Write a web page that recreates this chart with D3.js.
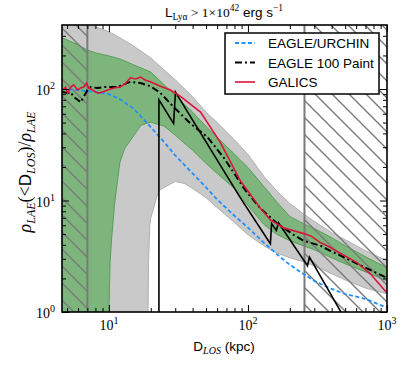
<!DOCTYPE html>
<html>
<head>
<meta charset="utf-8">
<script src="https://cdn.jsdelivr.net/npm/d3@7"></script>
<style>
body{margin:0;background:#fff}
text{fill:#000}
</style>
</head>
<body>
<div id="container"></div>
<script>
// --- data (D in kpc, ratio) ---
var bandD = [4.6,5,6,7,8,10,12,15,20,25,30,40,50,60,80,100,130,160,200,250,300,400,500,700,1000]
var grayUp = [450,440,410,385,362,326,288,244,190,148,121,85,62,50,35,25.9,16.5,12.3,9.4,7.6,6.5,5.15,4.45,3.55,2.88]
var greenUp = [288,276,249,224,211,198,186,165,142,109,88,62,46,37,26,19.8,13.4,9.8,7.2,6.2,5.6,4.64,3.93,3.13,2.49]

var greenLoD = [4.6,9.8,10,10.2,10.5,11,12,13,15,17,20,25,30,40,50,60,80,100,130,160,200,250,300,400,500,700,1000]
var greenLo = [0.5,0.5,1.0,2.8,4.8,9.5,22,29.4,37.7,47.4,50.4,46.4,38.5,28.2,21.5,17.5,12.8,9.0,6.1,5.0,4.36,3.93,3.62,3.06,2.71,2.29,1.9]

var grayLoD = [4.6,19,19.3,19.7,20,21,22,23,25,30,35,40,50,60,80,100,130,160,200,250,300,400,500,700,1000]
var grayLo = [0.5,0.5,2.9,6.0,7.0,8.5,10.6,12.3,13.1,14.8,14.2,12.8,10.6,8.65,6.34,4.94,3.93,3.4,3.07,2.82,2.6,2.2,1.94,1.64,1.45]

var urchinD = [4.6,6,8,10,12,15,20,25,30,40,50,60,80,100,130,160,200,250,300,400,500,700,1000]
var urchin = [100,98,94,90,81,67,45.5,33.3,25.4,17.5,13.1,10.2,7.3,5.71,4.19,3.33,2.65,2.2,1.9,1.61,1.45,1.31,1.09]

var paintD = [4.65,5.05,5.31,5.58,5.96,6.26,6.58,7.03,7.39,8.29,9.16,10.3,11.55,12.5,14.3,16.9,19.9,23.5,29.2,38.6,51.2,66.7,78.7,95.9,123,163,212,251,332,391,612,1000]
var paint = [94,92,94,85,80,76,85,98,104,102,104,104,104,109,116,113,106,92,69,49,37,24.4,17.9,12.3,8.5,6.2,4.94,4.36,3.93,3.54,2.71,2.02]

var galicsD = [4.65,4.88,5.05,5.31,5.58,5.96,6.26,6.58,6.92,7.15,7.64,8.02,8.43,9.01,9.79,10.8,12.1,13.2,14.3,15.6,16.9,18.4,19.9,23.5,27.7,32.7,45.6,63.4,88,123,145,180,238,281,332,372,612,759,1000]
var galics = [98,104,92,104,109,98,102,104,113,102,98,94,92,94,98,102,104,113,126,123,128,120,116,106,98,86,62,33,15.1,8.5,6.7,5.7,5.15,4.84,4.19,3.93,2.76,2.2,1.48]

var paintSolidD = [22.9,22.9,29.2,30.1,88,145,148,160,166,268,277,500]
var paintSolid = [0.1,80,49,94,10.6,4.1,6.2,5.4,6.3,2.6,3.1,0.86]

var hatchLeft = [4.6,7]
var hatchRight = [255,1000]

var xMajor = [10,100,1000]
var xMinor = [5,6,7,8,9,20,30,40,50,60,70,80,90,200,300,400,500,600,700,800,900]
var yMajor = [1,10,100]
var yMinor = [2,3,4,5,6,7,8,9,20,30,40,50,60,70,80,90,200,300]

var legendNames = ["EAGLE/URCHIN","EAGLE 100 Paint","GALICS"]

var svg = d3.select("#container").append("svg").attr("width",415).attr("height",368)

var xScale = d3.scaleLog().domain([4.6,1000]).range([62,387])
var yScale = d3.scaleLog().domain([1,375]).range([312,25])

var defs = svg.append("defs")
defs.append("clipPath").attr("id","clip").append("rect")
    .attr("x",62).attr("y",25).attr("width",325).attr("height",287)
var pat = defs.append("pattern").attr("id","hatch")
    .attr("patternUnits","userSpaceOnUse").attr("width",17).attr("height",17)
pat.append("path").attr("d","M-2,-2L19,19M-2,15L2,19M15,-2L19,2")
    .attr("stroke","#7a7a7a").attr("stroke-width",1.4).attr("fill","none")

var plot = svg.append("g").attr("clip-path","url(#clip)")

function band(upD,up,loD,lo){
    var pts = upD.map(function(d,i){return [xScale(d),yScale(up[i])]})
    var low = loD.map(function(d,i){return [xScale(d),yScale(lo[i])]}).reverse()
    return d3.line()(pts.concat(low))+"Z"
}

plot.append("path").attr("d",band(bandD,grayUp,grayLoD,grayLo))
    .attr("fill","#c9c9c9").attr("stroke","#b0b0b0").attr("stroke-width",1)
plot.append("path").attr("d",band(bandD,greenUp,greenLoD,greenLo))
    .attr("fill","#7db57d").attr("stroke","#56a056").attr("stroke-width",1)

// hatched regions
;[hatchLeft,hatchRight].forEach(function(r){
    plot.append("rect").attr("x",xScale(r[0])).attr("y",yScale(375))
        .attr("width",xScale(r[1])-xScale(r[0])).attr("height",yScale(1)-yScale(375))
        .attr("fill","url(#hatch)")
})
plot.append("line").attr("x1",xScale(hatchLeft[1])).attr("x2",xScale(hatchLeft[1]))
    .attr("y1",25).attr("y2",312).attr("stroke","#7a7a7a").attr("stroke-width",2)
plot.append("line").attr("x1",xScale(hatchRight[0])).attr("x2",xScale(hatchRight[0]))
    .attr("y1",25).attr("y2",312).attr("stroke","#7a7a7a").attr("stroke-width",2)

function lineOf(xs,ys){
    return d3.line().x(function(d){return xScale(d)}).y(function(d,i){return yScale(ys[i])})(xs)
}

plot.append("path").attr("d",lineOf(urchinD,urchin)).attr("fill","none")
    .attr("stroke","#1e90ff").attr("stroke-width",1.8).attr("stroke-dasharray","4,2.5")
plot.append("path").attr("d",lineOf(paintSolidD,paintSolid)).attr("fill","none")
    .attr("stroke","#000").attr("stroke-width",1.6)
plot.append("path").attr("d",lineOf(paintD,paint)).attr("fill","none")
    .attr("stroke","#000").attr("stroke-width",2).attr("stroke-dasharray","7,3,2,3")
plot.append("path").attr("d",lineOf(galicsD,galics)).attr("fill","none")
    .attr("stroke","#dc143c").attr("stroke-width",1.6)

// axes, ticks pointing inward
function ticks(axis,vals,size,tr){
    var g = svg.append("g").attr("transform",tr)
        .call(axis.tickValues(vals).tickSize(size).tickFormat(""))
    g.select(".domain").remove()
    g.selectAll("line").attr("stroke","#000").attr("stroke-width",1)
}
ticks(d3.axisBottom(xScale),xMajor,-7,"translate(0,312)")
ticks(d3.axisBottom(xScale),xMinor,-4,"translate(0,312)")
ticks(d3.axisTop(xScale),xMajor,-7,"translate(0,25)")
ticks(d3.axisTop(xScale),xMinor,-4,"translate(0,25)")
ticks(d3.axisLeft(yScale),yMajor,-7,"translate(62,0)")
ticks(d3.axisLeft(yScale),yMinor,-4,"translate(62,0)")
ticks(d3.axisRight(yScale),yMajor,-7,"translate(387,0)")
ticks(d3.axisRight(yScale),yMinor,-4,"translate(387,0)")

svg.append("rect").attr("x",62).attr("y",25).attr("width",325).attr("height",287)
    .attr("fill","none").attr("stroke","#000").attr("stroke-width",1.6)

var serif = "'Liberation Serif','DejaVu Serif',serif"
var sans = "'Liberation Sans',Arial,sans-serif"

xMajor.forEach(function(v){
    var t = svg.append("text").attr("x",xScale(v)).attr("y",330)
        .attr("text-anchor","middle").attr("font-family",serif).attr("font-size",14)
    t.append("tspan").text("10")
    t.append("tspan").attr("dy",-6).attr("font-size",10).text(Math.round(Math.log10(v)))
})
yMajor.forEach(function(v){
    var t = svg.append("text").attr("x",55).attr("y",yScale(v)+6)
        .attr("text-anchor","end").attr("font-family",serif).attr("font-size",14)
    t.append("tspan").text("10")
    t.append("tspan").attr("dy",-6).attr("font-size",10).text(Math.round(Math.log10(v)))
})

// title
var title = svg.append("text").attr("x",224).attr("y",17).attr("text-anchor","middle")
    .attr("font-size",13.5).attr("font-family",sans)
title.append("tspan").text("L")
title.append("tspan").attr("font-family",serif).attr("font-size",9.5).attr("dy",3).text("Lyα")
title.append("tspan").attr("font-family",serif).attr("dy",-3).text(" > 1×10")
title.append("tspan").attr("font-family",serif).attr("font-size",9.5).attr("dy",-6).text("42")
title.append("tspan").attr("dy",6).text(" erg s")
title.append("tspan").attr("font-family",serif).attr("font-size",9.5).attr("dy",-6).text("−1")

// x label
var xl = svg.append("text").attr("x",224).attr("y",351).attr("text-anchor","middle")
    .attr("font-size",13.5).attr("font-family",sans)
xl.append("tspan").text("D")
xl.append("tspan").attr("font-family",serif).attr("font-style","italic").attr("font-size",10).attr("dy",3).text("LOS")
xl.append("tspan").attr("dy",-3).text(" (kpc)")

// y label
var yl = svg.append("text").attr("transform","translate(31,172) rotate(-90)")
    .attr("text-anchor","middle").attr("font-size",18).attr("font-family",serif)
yl.append("tspan").attr("font-style","italic").text("ρ")
yl.append("tspan").attr("font-style","italic").attr("font-size",12).attr("dy",4).text("LAE")
yl.append("tspan").attr("dy",-4).text("(<")
yl.append("tspan").attr("font-family",sans).attr("font-size",17).text("D")
yl.append("tspan").attr("font-style","italic").attr("font-size",12).attr("dy",4).text("LOS")
yl.append("tspan").attr("dy",-4).text(")/")
yl.append("tspan").attr("font-style","italic").text("ρ")
yl.append("tspan").attr("font-style","italic").attr("font-size",12).attr("dy",4).text("LAE")

// legend
var lg = svg.append("g")
lg.append("rect").attr("x",225).attr("y",33).attr("width",154).attr("height",61)
    .attr("fill","#fff").attr("stroke","#000").attr("stroke-width",1.5)
var lStyles = [
    {c:"#1e90ff",w:1.8,dash:"4,2.5"},
    {c:"#000",w:2,dash:"7,3,2,3"},
    {c:"#dc143c",w:1.6,dash:null}
]
legendNames.forEach(function(n,i){
    var y = 43 + i*19.5
    lg.append("line").attr("x1",235).attr("x2",255).attr("y1",y).attr("y2",y)
        .attr("stroke",lStyles[i].c).attr("stroke-width",lStyles[i].w)
        .attr("stroke-dasharray",lStyles[i].dash)
    lg.append("text").attr("x",268).attr("y",y+5).attr("font-family",sans)
        .attr("font-size",13.5).text(n)
})
</script>
</body>
</html>
